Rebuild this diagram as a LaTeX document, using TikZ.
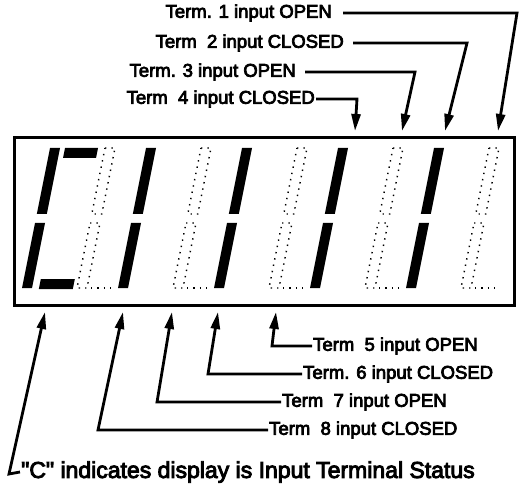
\documentclass[tikz,border=0pt]{standalone}
\usepackage{fontspec}
\setmainfont{Liberation Sans}
\newfontfamily\tagfont{Liberation Sans}[FakeBold=4]
\usetikzlibrary{arrows.meta,positioning}

\begin{document}
\begin{tikzpicture}[
  x=1pt, y=-1pt,
  litseg/.style={fill=black},
  offseg/.style={draw=black, line width=1.4pt, dash pattern=on 1.4pt off 5pt},
  tag/.style={font=\tagfont\fontsize{18.5}{20}\selectfont, inner sep=1pt},
  arr/.style={-{Triangle[length=17pt,width=9pt]}, line width=2.8pt}
]
\useasboundingbox (0,0) rectangle (524,486);

% Display window
\node[draw, line width=3pt, minimum width=500pt, minimum height=167pt,
      inner sep=0pt] (disp) at (264,221.5) {};

% Digits: left segments lit, right segments dark
\foreach \x in {55,151,247,343,439} {
  \begin{scope}[shift={(\x,148)}, xslant=0.2]
    \path[litseg] (-5,0) -- (5,0) -- (5,66) -- (-5,66) -- cycle;
    \path[litseg] (-5,75) -- (5,75) -- (5,140) -- (-5,140) -- cycle;
    \draw[offseg] (50,0) -- (60,0) -- (60,66) -- (50,66) -- cycle;
    \draw[offseg] (50,75) -- (60,75) -- (60,140) -- (50,140) -- cycle;
    \draw[offseg] (64,140) -- (84,140);
  \end{scope}
}
% top and bottom bars of the "C"
\begin{scope}[shift={(55,148)}, xslant=0.2]
  \path[litseg] (10,0) -- (43,0) -- (43,10) -- (10,10) -- cycle;
  \path[litseg] (12,131) -- (46,131) -- (46,141) -- (12,141) -- cycle;
\end{scope}

% Terminals 1-4 (upper row)
\node[tag, anchor=east] (t1) at (333,13) {Term. 1 input OPEN};
\node[tag, anchor=east] (t2) at (345,43) {Term\ \ 2 input CLOSED};
\node[tag, anchor=east] (t3) at (297,72) {Term. 3 input OPEN};
\node[tag, anchor=east] (t4) at (316,99) {Term\ \ 4 input CLOSED};

\coordinate (c1) at (517,13);  \coordinate (p1) at (498,131);
\coordinate (c2) at (467,43);  \coordinate (p2) at (445,131);
\coordinate (c3) at (415,72);  \coordinate (p3) at (402,131);
\coordinate (c4) at (357,99);  \coordinate (p4) at (355,131);

\draw[arr] ([xshift=10pt]t1.east) -- (c1) -- (p1);
\draw[arr] ([xshift=8pt]t2.east) -- (c2) -- (p2);
\draw[arr] ([xshift=8pt]t3.east) -- (c3) -- (p3);
\draw[arr] (t4.east) -- (c4) -- (p4);

% Terminals 5-8 (lower row)
\node[tag, anchor=west] (t5) at (312,346) {Term\ \ 5 input OPEN};
\node[tag, anchor=west] (t6) at (302,374) {Term. 6 input CLOSED};
\node[tag, anchor=west] (t7) at (281,402) {Term\ \ 7 input OPEN};
\node[tag, anchor=west] (t8) at (268,430) {Term\ \ 8 input CLOSED};
\node[tag, anchor=west, font=\tagfont\fontsize{23}{25}\selectfont]
  (tc) at (20,472) {"C" indicates display is Input Terminal Status};

\coordinate (q5) at (272,346); \coordinate (p5) at (276,312);
\coordinate (q6) at (208,374); \coordinate (p6) at (218,312);
\coordinate (q7) at (157,402); \coordinate (p7) at (172,312);
\coordinate (q8) at (98,430);  \coordinate (p8) at (123,312);
\coordinate (qc) at (9,474);   \coordinate (pc) at (45,312);

\draw[arr] (t5.west) -- (q5) -- (p5);
\draw[arr] (t6.west) -- (q6) -- (p6);
\draw[arr] (t7.west) -- (q7) -- (p7);
\draw[arr] (t8.west) -- (q8) -- (p8);
\draw[arr] (tc.west) -- (qc) -- (pc);

\end{tikzpicture}
\end{document}
